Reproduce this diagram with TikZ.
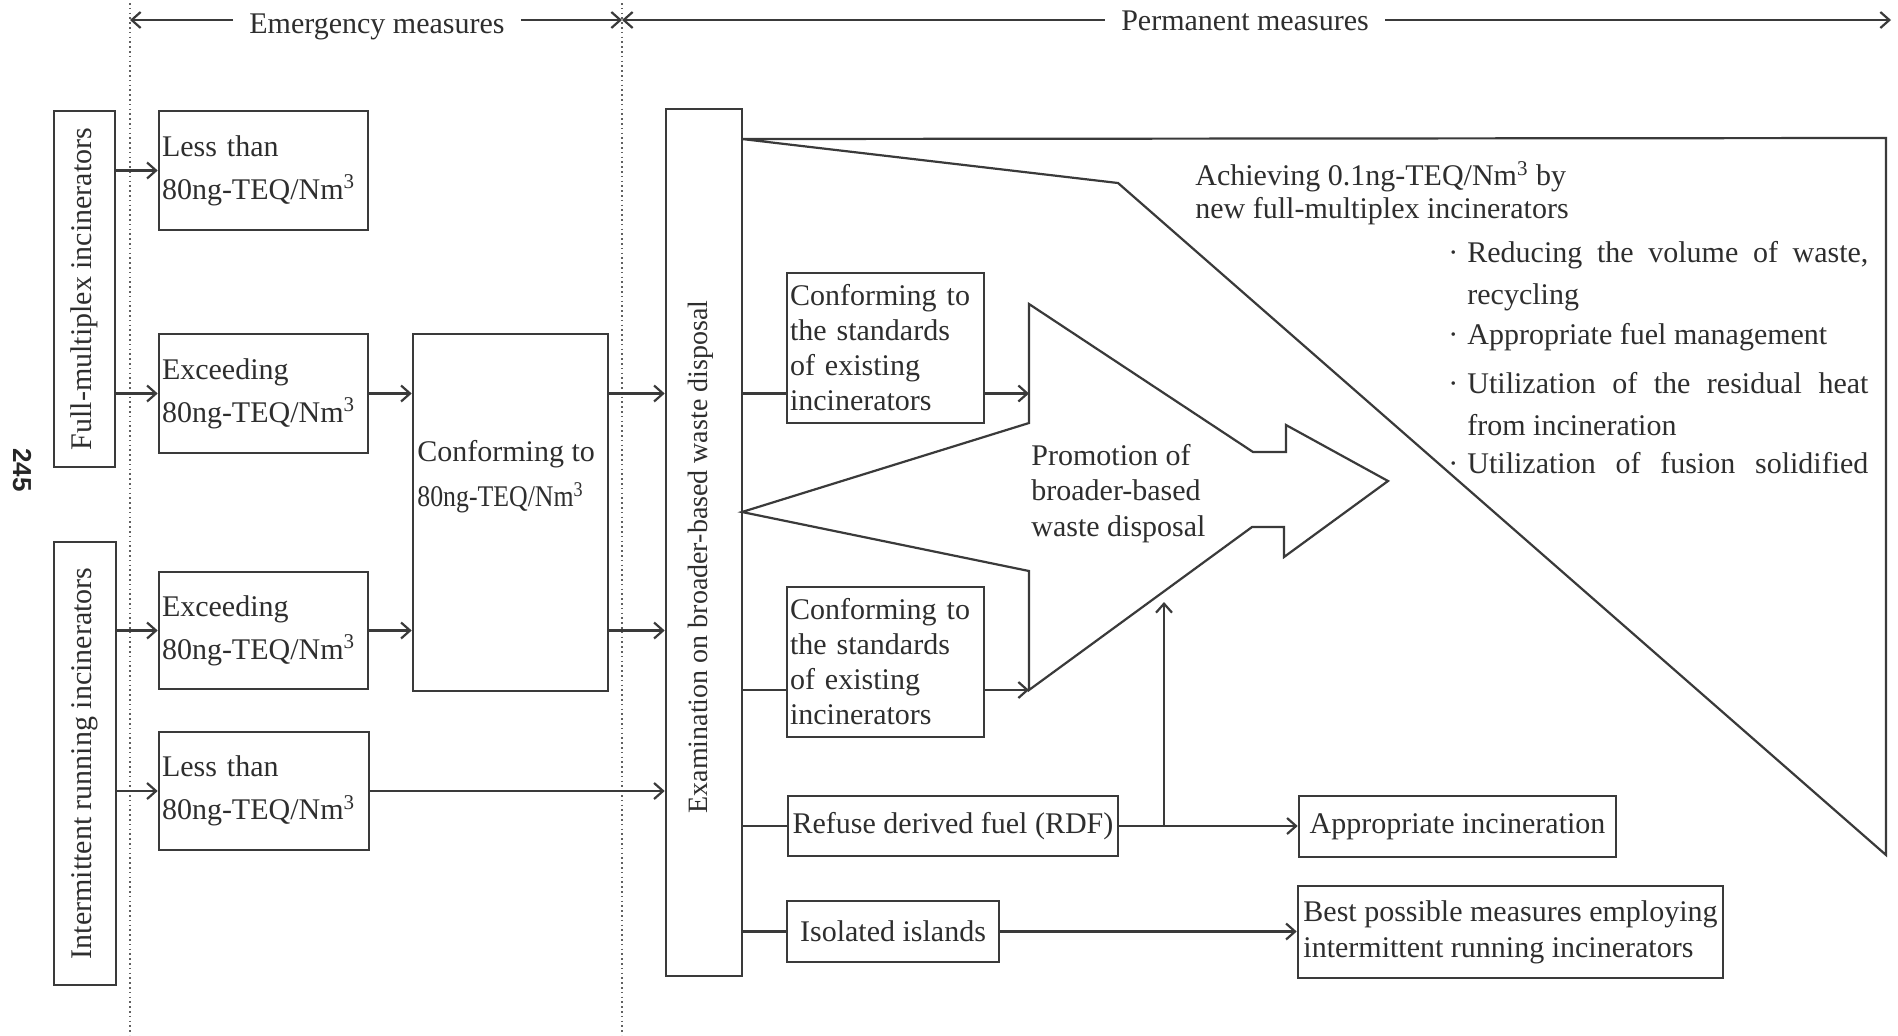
\documentclass[tikz,border=0pt]{standalone}
\usepackage{fontspec}
\setmainfont{Liberation Serif}
\newfontfamily\pagefont{Liberation Sans}
\usepackage{graphicx}
\usetikzlibrary{arrows.meta}
\definecolor{lc}{HTML}{3A3A3A}
\definecolor{tc}{HTML}{2E2E2E}
\tikzset{
  box/.style={draw=lc, line width=1.3pt, inner xsep=1.5pt, inner ysep=0pt, text=tc, font=\fontsize{15}{21.5}\selectfont},
  arr/.style={draw=lc, line width=1.2pt, -{Straight Barb[length=4.5pt,width=8pt,line width=1.1pt]}},
  ln/.style={draw=lc, line width=1.2pt},
  outline/.style={draw=lc, line width=1.1pt, line join=miter},
  dotline/.style={draw=lc!80, line width=0.8pt, dash pattern=on 0.8pt off 1.6pt},
  txt/.style={text=tc, inner sep=0pt, font=\fontsize{15}{18}\selectfont},
}
\begin{document}
\begin{tikzpicture}[x=0.5pt,y=-0.5pt]
\fill[white] (0,0) rectangle (1898,1035);
\useasboundingbox (0,0) rectangle (1898,1035);

% dotted separators
\coordinate (d1t) at (130,3); \coordinate (d1b) at (130,1035);
\coordinate (d2t) at (622,3); \coordinate (d2b) at (622,1035);
\draw[dotline] (d1t) -- (d1b);
\draw[dotline] (d2t) -- (d2b);

% header
\coordinate (hl) at (130,20); \coordinate (hm) at (622,20); \coordinate (hr) at (1891,20);
\node[txt] (em) at (377,27) {Emergency measures};
\node[txt] (pm) at (1245,21) {Permanent measures};
\draw[arr, shorten <=8pt] (em.west |- hl) -- (hl);
\draw[arr, shorten <=8pt] (em.east |- hl) -- (hm);
\draw[arr, shorten <=8pt] (pm.west |- hl) -- (hm);
\draw[arr, shorten <=8pt] (pm.east |- hl) -- (hr);

% page number
\node[font=\pagefont\bfseries\fontsize{13}{13}\selectfont, text=black!85, rotate=-90, inner sep=0pt] (pg) at (22,470) {245};

% left category boxes
\node[box, rotate=90, minimum width=178pt, minimum height=30.5pt, inner sep=0pt, font=\fontsize{15}{18}\selectfont] (fm) at (84.5,289) {Full-multiplex incinerators};
\node[box, rotate=90, minimum width=221.5pt, minimum height=31pt, inner sep=0pt, font=\fontsize{15}{18}\selectfont] (ir) at (85,763.5) {Intermittent running incinerators};

% emergency boxes
\node[box, minimum height=59.5pt, text width=101.5pt, align=left] (l1) at (263.5,170.5) {Less than\\80ng-TEQ/Nm\textsuperscript{3}};
\node[box, minimum height=59.5pt, text width=101.5pt, align=left] (e1) at (263.5,393.5) {Exceeding\\80ng-TEQ/Nm\textsuperscript{3}};
\node[box, minimum height=58.5pt, text width=101.5pt, align=left] (e2) at (263.5,630.5) {Exceeding\\80ng-TEQ/Nm\textsuperscript{3}};
\node[box, minimum height=59pt, text width=102pt, align=left] (l2) at (264,791) {Less than\\80ng-TEQ/Nm\textsuperscript{3}};

\node[box, minimum width=97.5pt, minimum height=178.5pt] (cf) at (510.5,512.5) {};
\node[txt, anchor=west, align=left, font=\fontsize{15}{22.5}\selectfont] (cft) at (417,477) {Conforming to\\\scalebox{0.86}[1]{80ng-TEQ/Nm\textsuperscript{3}}};

% examination box
\node[box, minimum width=38pt, minimum height=433.5pt] (ex) at (704,542.5) {};
\node[txt, rotate=90, font=\fontsize{14}{16}\selectfont] (ext) at (701,557) {Examination on broader-based waste disposal};

% permanent boxes
\node[box, font=\fontsize{15}{17.5}\selectfont, minimum height=75pt, text width=95.5pt, align=left] (cs1) at (885.5,348) {Conforming to\\the standards\\of existing\\incinerators};
\node[box, font=\fontsize{15}{17.5}\selectfont, minimum height=75pt, text width=95.5pt, align=left] (cs2) at (885.5,662) {Conforming to\\the standards\\of existing\\incinerators};
\node[box, font=\fontsize{15}{18}\selectfont, minimum width=165pt, minimum height=30pt] (rdf) at (953,826) {Refuse derived fuel (RDF)};
\node[box, font=\fontsize{15}{18}\selectfont, minimum width=158.5pt, minimum height=30.5pt] (ai) at (1457.5,826.5) {Appropriate incineration};
\node[box, font=\fontsize{15}{18}\selectfont, minimum width=106pt, minimum height=30.5pt] (ii) at (893,931.5) {Isolated islands};
\node[box, font=\fontsize{15}{18}\selectfont, inner xsep=1.25pt, minimum width=212.5pt, minimum height=46pt, align=left] (bp) at (1510.5,932) {Best possible measures employing\\intermittent running incinerators};

% big wedge arrow
\coordinate (wA) at (742,139); \coordinate (wB) at (1886,138);
\coordinate (wC) at (1886,855); \coordinate (wD) at (1118,183);
\draw[outline] (wA) -- (wB) -- (wC) -- (wD) -- cycle;

% promotion arrow
\coordinate (pA) at (742,512);
\coordinate (pB) at (1029,423);
\coordinate (pC) at (1029,304);
\coordinate (pD) at (1253,452);
\coordinate (pE) at (1286,452);
\coordinate (pF) at (1286,425);
\coordinate (pG) at (1388,481);
\coordinate (pF2) at (1284,557);
\coordinate (pE2) at (1284,527);
\coordinate (pD2) at (1252,527);
\coordinate (pC2) at (1029,690);
\coordinate (pB2) at (1029,571);
\draw[outline] (pA) -- (pB) -- (pC) -- (pD) -- (pE) -- (pF) -- (pG) -- (pF2) -- (pE2) -- (pD2) -- (pC2) -- (pB2) -- cycle;

% texts in arrows
\node[txt, anchor=west, align=left, font=\fontsize{15}{16.5}\selectfont] (ach) at (1195,193.5) {Achieving 0.1ng-TEQ/Nm\textsuperscript{3} by\\new full-multiplex incinerators};
\node[txt, anchor=west, align=left, font=\fontsize{15}{17.75}\selectfont] (prm) at (1031,493.5) {Promotion of\\broader-based\\waste disposal};

\node[txt, anchor=west] (b1) at (1448,255) {\makebox[9.5pt][l]{·}\makebox[200.5pt][s]{Reducing the volume of waste,}};
\node[txt, anchor=west] (b2) at (1467,297) {recycling};
\node[txt, anchor=west] (b3) at (1448,337) {\makebox[9.5pt][l]{·}Appropriate fuel management};
\node[txt, anchor=west] (b4) at (1448,383) {\makebox[9.5pt][l]{·}\makebox[200.5pt][s]{Utilization of the residual heat}};
\node[txt, anchor=west] (b5) at (1467,425) {from incineration};
\node[txt, anchor=west] (b6) at (1448,463) {\makebox[9.5pt][l]{·}\makebox[200.5pt][s]{Utilization of fusion solidified}};

% connectors
\draw[arr] (fm.south |- l1.west) -- (l1.west);
\draw[arr] (fm.south |- e1.west) -- (e1.west);
\draw[arr] (ir.south |- e2.west) -- (e2.west);
\draw[arr] (ir.south |- l2.west) -- (l2.west);
\draw[arr] (e1.east) -- (e1.east -| cf.west);
\draw[arr] (e2.east) -- (e2.east -| cf.west);
\draw[arr] (cf.east |- e1.east) -- (ex.west |- e1.east);
\draw[arr] (cf.east |- e2.east) -- (ex.west |- e2.east);
\draw[arr] (l2.east) -- (l2.east -| ex.west);
\draw[ln] (ex.east |- e1.east) -- (cs1.west |- e1.east);
\draw[arr] (cs1.east |- e1.east) -- (pB |- e1.east);
\draw[ln] (ex.east |- pC2) -- (cs2.west |- pC2);
\draw[arr] (cs2.east |- pC2) -- (pC2);
\draw[ln] (ex.east |- rdf.west) -- (rdf.west);
\draw[arr] (rdf.east) -- (rdf.east -| ai.west);
\coordinate (up) at (1164,602);
\draw[arr] (up |- rdf.east) -- (up);
\draw[ln] (ex.east |- ii.west) -- (ii.west);
\draw[arr] (ii.east) -- (ii.east -| bp.west);
\end{tikzpicture}
\end{document}
